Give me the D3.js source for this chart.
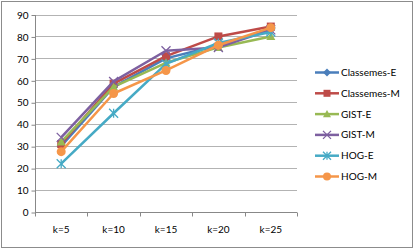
<!DOCTYPE html>
<html>
<head>
<meta charset="utf-8">
<script src="https://cdn.jsdelivr.net/npm/d3@7"></script>
<style>
  body { margin: 0; background: #fff; }
  text { font-family: Lato, "Liberation Sans", sans-serif; font-size: 10px; fill: #000; }
</style>
</head>
<body>
<script>
// chart data
const categories = ["k=5", "k=10", "k=15", "k=20", "k=25"];
const yTicks = [0, 10, 20, 30, 40, 50, 60, 70, 80, 90];
const seriesNames = ["Classemes-E", "Classemes-M", "GIST-E", "GIST-M", "HOG-E", "HOG-M"];
const classemesE = [30, 57, 70, 76, 83];
const classemesM = [31, 58.5, 71, 80, 84.5];
const gistE = [32, 57, 68, 75, 80];
const gistM = [34, 59.5, 73.5, 75, 83];
const hogE = [22, 45, 67.5, 77, 82];
const hogM = [27.5, 54, 64.5, 76, 84];

const colors = ["#4A7EBB", "#BE4B48", "#98B954", "#7D60A0", "#46AAC5", "#F59649"];
const markers = ["diamond", "square", "triangle", "x", "star", "circle"];

const series = [classemesE, classemesM, gistE, gistM, hogE, hogM].map((v, i) => ({
  name: seriesNames[i], values: v, color: colors[i], marker: markers[i]
}));

const W = 415, H = 250;
const margin = {top: 14.5, left: 35, right: 118, bottom: 38};

const svg = d3.select("body").append("svg")
  .attr("width", W).attr("height", H);

// outer frame
svg.append("rect")
  .attr("x", 1.5).attr("y", 1.5)
  .attr("width", 411).attr("height", 246)
  .attr("fill", "#fff").attr("stroke", "#8c8c8c").attr("stroke-width", 1);

let x = d3.scaleBand()
  .domain(categories)
  .range([margin.left, W - margin.right]);

let y = d3.scaleLinear()
  .domain([0, 90])
  .range([H - margin.bottom, margin.top]);

// gridlines
svg.append("g")
  .selectAll("line")
  .data(yTicks.slice(1))
  .join("line")
  .attr("x1", margin.left).attr("x2", W - margin.right)
  .attr("y1", d => Math.round(y(d)) + 0.5).attr("y2", d => Math.round(y(d)) + 0.5)
  .attr("stroke", "#b3b3b3").attr("stroke-width", 1);

// y axis
let yAxis = d3.axisLeft(y).tickValues(yTicks).tickSize(4).tickPadding(3);
let gy = svg.append("g")
  .attr("transform", "translate(" + (margin.left + 0.5) + ",0.5)")
  .call(yAxis);
gy.selectAll("line, path").attr("stroke", "#888");
gy.select(".domain").attr("d", "M0," + (y(0)) + "V" + y(90));
gy.selectAll("text").style("font-size", "10px");

// x axis
let xAxis = d3.axisBottom(x).tickSize(0).tickPadding(13);
let gx = svg.append("g")
  .attr("transform", "translate(0," + (Math.round(y(0)) + 0.5) + ")")
  .call(xAxis);
gx.select(".domain").attr("stroke", "#888").attr("d", "M" + margin.left + ",0H" + (W - margin.right));
gx.selectAll("text").style("font-size", "10px");
// boundary ticks
gx.append("g").selectAll("line")
  .data(categories.map(c => x(c)).concat([W - margin.right]))
  .join("line")
  .attr("x1", d => Math.round(d) + 0.5).attr("x2", d => Math.round(d) + 0.5)
  .attr("y1", 0).attr("y2", 4)
  .attr("stroke", "#888");

const cx = c => x(c) + x.bandwidth() / 2;

function drawMarker(g, type, color, px, py, s) {
  if (type === "diamond") {
    g.append("path").attr("d", `M${px},${py - s}L${px + s},${py}L${px},${py + s}L${px - s},${py}Z`).attr("fill", color);
  } else if (type === "square") {
    g.append("rect").attr("x", px - s + 0.5).attr("y", py - s + 0.5).attr("width", 2 * s - 1).attr("height", 2 * s - 1).attr("fill", color);
  } else if (type === "triangle") {
    g.append("path").attr("d", `M${px},${py - s}L${px + s},${py + s * 0.8}L${px - s},${py + s * 0.8}Z`).attr("fill", color);
  } else if (type === "x") {
    g.append("path").attr("d", `M${px - s},${py - s}L${px + s},${py + s}M${px + s},${py - s}L${px - s},${py + s}`)
      .attr("stroke", color).attr("stroke-width", 1.3).attr("fill", "none");
  } else if (type === "star") {
    g.append("path").attr("d", `M${px - s},${py - s}L${px + s},${py + s}M${px + s},${py - s}L${px - s},${py + s}M${px},${py - s}V${py + s}`)
      .attr("stroke", color).attr("stroke-width", 1.3).attr("fill", "none");
  } else {
    g.append("circle").attr("cx", px).attr("cy", py).attr("r", s).attr("fill", color);
  }
}

const line = d3.line()
  .x((d, i) => cx(categories[i]))
  .y(d => y(d));

// series lines and markers
series.forEach(s => {
  let g = svg.append("g");
  g.append("path")
    .datum(s.values)
    .attr("d", line)
    .attr("fill", "none")
    .attr("stroke", s.color)
    .attr("stroke-width", 2.5)
    .attr("stroke-linejoin", "round");
  s.values.forEach((v, i) => drawMarker(g, s.marker, s.color, cx(categories[i]), y(v), 4.5));
});

// legend
const legend = svg.append("g");
series.forEach((s, i) => {
  let ly = 72.5 + i * 20.8;
  let g = legend.append("g");
  g.append("line")
    .attr("x1", 315).attr("x2", 339).attr("y1", ly).attr("y2", ly)
    .attr("stroke", s.color).attr("stroke-width", 2.5);
  drawMarker(g, s.marker, s.color, 327, ly, 4);
  g.append("text").attr("x", 341).attr("y", ly).attr("dy", "0.35em").text(s.name);
});
</script>
</body>
</html>
